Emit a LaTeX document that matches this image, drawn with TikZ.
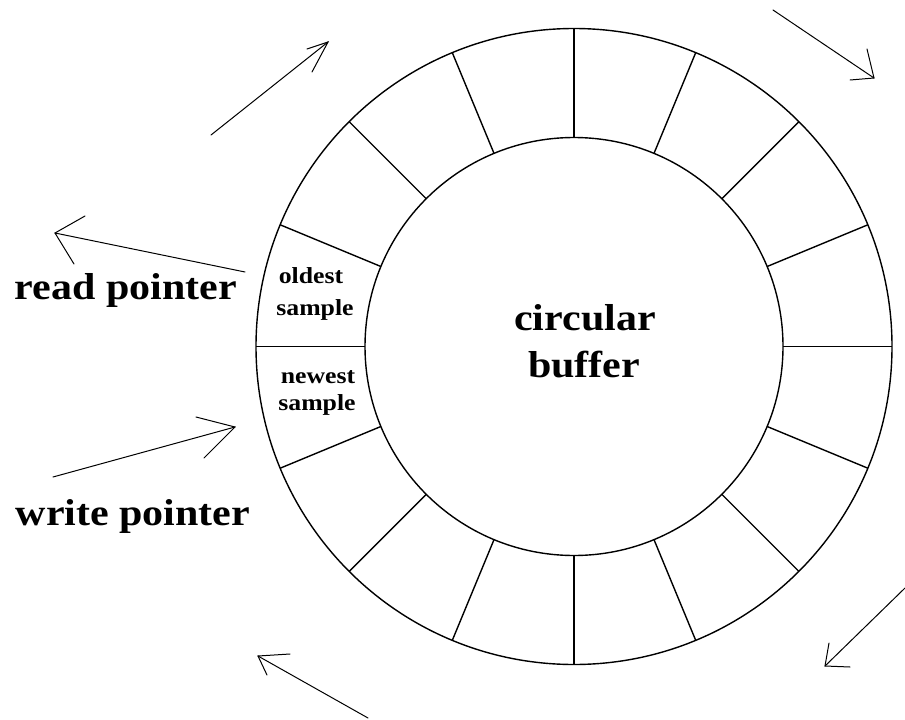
\documentclass[tikz,border=0pt]{standalone}
\usepackage{fontspec}
\setmainfont[FakeStretch=1.12]{Liberation Serif}
\usetikzlibrary{calc}
\begin{document}
\begin{tikzpicture}[x=1pt,y=-1pt,
  ring/.style={line width=1.4pt},
  ptr/.style={line width=1pt, line cap=round},
  big/.style={font=\fontsize{37.5}{40}\selectfont\bfseries, inner sep=0pt, anchor=base},
  small/.style={font=\fontsize{23}{25}\selectfont\bfseries, inner sep=0pt, anchor=base}]
\useasboundingbox (0,0) rectangle (905,720);
\fill[white] (0,0) rectangle (905,720);

% ring of sixteen cells
\coordinate (c) at (574,346.5);
\draw[ring] (c) circle[radius=318];
\draw[ring] (c) circle[radius=209];
\foreach \k in {0,...,15}
  \draw[ring] ($(c)+(\k*22.5:209)$) -- ($(c)+(\k*22.5:318)$);

% labels
\node[big] (circ) at (585,330) {circular};
\node[big] (buf) at (584,377) {buffer};
\node[small] (old1) at (311,283) {oldest};
\node[small] (old2) at (315,315) {sample};
\node[small] (new1) at (318,383) {newest};
\node[small] (new2) at (317,410) {sample};
\node[big] (rp) at (126,299) {read pointer};
\node[big] (wp) at (133,525) {write pointer};

% hand-drawn pointer arrows: shaft plus two barbs
\foreach \n/\tx/\ty/\hx/\hy/\ax/\ay/\bx/\by in {
  rd/245/272/55/233/85/216/74/264,
  wr/53/477/235/427/196/417/204/458,
  tl/211/135/328/42/307/49/312/72,
  tr/773/10/874/78/867/49/850/80,
  br/905/588/825/666/829/643/850/667,
  bl/368/718/258/656/290/654/267/675}{
  \coordinate (\n-tail) at (\tx,\ty);
  \coordinate (\n-tip) at (\hx,\hy);
  \coordinate (\n-a) at (\ax,\ay);
  \coordinate (\n-b) at (\bx,\by);
  \draw[ptr] (\n-tail) -- (\n-tip);
  \draw[ptr] (\n-a) -- (\n-tip) -- (\n-b);
}
\end{tikzpicture}
\end{document}
